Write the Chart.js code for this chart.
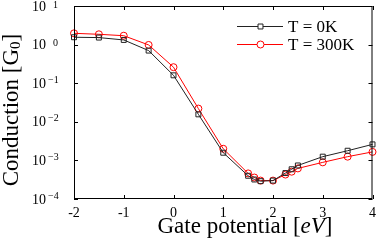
<!DOCTYPE html>
<html>
<head>
<meta charset="utf-8">
<script src="https://cdn.jsdelivr.net/npm/chart.js@4/dist/chart.umd.min.js"></script>
<style>
  html, body { margin: 0; padding: 0; background: #fff; }
</style>
</head>
<body>
<canvas id="condChart" width="382" height="240"></canvas>
<script>
// gate potential [eV]
const gate = [-2, -1.5, -1, -0.5, 0, 0.5, 1, 1.5, 1.625, 1.75, 2, 2.25, 2.375, 2.5, 3, 3.5, 4];
// conduction [G0]
const cond0K = [1.55, 1.52, 1.32, 0.70, 0.16, 0.0156, 0.00158, 4.0e-4, 3.2e-4, 2.9e-4, 3.0e-4, 4.7e-4, 5.9e-4, 7.4e-4, 1.25e-3, 1.78e-3, 2.6e-3];
const cond300K = [1.96, 1.85, 1.70, 0.98, 0.26, 0.022, 0.0020, 4.6e-4, 3.6e-4, 3.0e-4, 3.0e-4, 4.3e-4, 5.1e-4, 6.2e-4, 8.9e-4, 1.25e-3, 1.66e-3];
const seriesNames = ['T = 0K', 'T = 300K'];
const xTicks = [-2, -1, 0, 1, 2, 3, 4];
const yTicks = [1e-4, 1e-3, 1e-2, 1e-1, 1, 10];
const yTickExp = ['\u22124', '\u22123', '\u22122', '\u22121', '0', '1'];

const serif = "'Liberation Serif', 'DejaVu Serif', serif";

const extras = {
  id: 'extras',
  afterDraw(chart) {
    const ctx = chart.ctx;
    const a = chart.chartArea;
    const xs = chart.scales.x, ys = chart.scales.y;
    ctx.save();
    ctx.strokeStyle = '#000';
    ctx.lineWidth = 1;
    // frame
    ctx.strokeRect(a.left + 0.5, a.top + 0.5, a.right - a.left - 1, a.bottom - a.top - 1);
    // inward ticks on all sides
    ctx.beginPath();
    xTicks.forEach(v => {
      const px = Math.round(xs.getPixelForValue(v)) + 0.5;
      ctx.moveTo(px, a.bottom); ctx.lineTo(px, a.bottom - 4);
      ctx.moveTo(px, a.top); ctx.lineTo(px, a.top + 4);
    });
    yTicks.forEach(v => {
      const py = Math.round(ys.getPixelForValue(v)) + 0.5;
      ctx.moveTo(a.left, py); ctx.lineTo(a.left + 4, py);
      ctx.moveTo(a.right, py); ctx.lineTo(a.right - 4, py);
    });
    ctx.stroke();

    // y tick labels 10^n
    ctx.fillStyle = '#000';
    ctx.textBaseline = 'middle';
    ctx.textAlign = 'left';
    yTicks.forEach((v, i) => {
      const py = ys.getPixelForValue(v) + 1;
      ctx.font = '14px ' + serif;
      ctx.fillText('10', 32, py);
      ctx.font = '10px ' + serif;
      const e = yTickExp[i];
      const neg = e.startsWith('\u2212');
      ctx.fillText(e, neg ? 48 : 53, py - (neg ? 4 : 2));
    });

    // y title
    ctx.save();
    ctx.translate(12, 110);
    ctx.rotate(-Math.PI / 2);
    ctx.font = '23px ' + serif;
    ctx.textBaseline = 'middle';
    const t1 = 'Conduction [G';
    const w1 = ctx.measureText(t1).width;
    ctx.font = '15px ' + serif;
    const w2 = ctx.measureText('0').width;
    ctx.font = '23px ' + serif;
    const w3 = ctx.measureText(']').width;
    let sx = -(w1 + w2 + w3) / 2;
    ctx.fillText(t1, sx, 0);
    ctx.font = '15px ' + serif;
    ctx.fillText('0', sx + w1, 4);
    ctx.font = '23px ' + serif;
    ctx.fillText(']', sx + w1 + w2, 0);
    ctx.restore();

    // x title
    ctx.textBaseline = 'alphabetic';
    ctx.font = '23px ' + serif;
    const p1 = 'Gate potential [';
    const q1 = ctx.measureText(p1).width;
    ctx.font = 'italic 23px ' + serif;
    const q2 = ctx.measureText('eV').width;
    ctx.font = '23px ' + serif;
    const q3 = ctx.measureText(']').width;
    let tx = 245 - (q1 + q2 + q3) / 2;
    ctx.fillText(p1, tx, 233);
    ctx.font = 'italic 23px ' + serif;
    ctx.fillText('eV', tx + q1, 233);
    ctx.font = '23px ' + serif;
    ctx.fillText(']', tx + q1 + q2, 233);

    // legend: line + marker + text
    chart.data.datasets.forEach((ds, i) => {
      const ly = 26 + i * 18 + 0.5;
      ctx.strokeStyle = ds.borderColor;
      ctx.lineWidth = 1;
      ctx.beginPath();
      ctx.moveTo(237, ly); ctx.lineTo(283, ly);
      ctx.stroke();
      ctx.fillStyle = '#fff';
      Chart.helpers.drawPoint(ctx, {
        pointStyle: ds.pointStyle, radius: ds.pointRadius, rotation: 0, borderWidth: 1
      }, 260.5, ly);
      ctx.fillStyle = '#000';
      ctx.font = '17px ' + serif;
      ctx.textBaseline = 'middle';
      ctx.fillText(ds.label, 288, ly + 1);
    });
    ctx.restore();
  }
};

const ctx = document.getElementById('condChart').getContext('2d');
const condChart = new Chart(ctx, {
  type: 'line',
  data: {
    datasets: [{
      label: seriesNames[0],
      data: gate.map((g, i) => ({ x: g, y: cond0K[i] })),
      borderColor: '#222',
      backgroundColor: 'transparent',
      pointBorderColor: '#222',
      pointBackgroundColor: 'transparent',
      pointStyle: 'rect',
      pointRadius: 3.5,
      borderWidth: 1,
      pointBorderWidth: 1,
      tension: 0,
      clip: false
    }, {
      label: seriesNames[1],
      data: gate.map((g, i) => ({ x: g, y: cond300K[i] })),
      borderColor: '#ff0000',
      backgroundColor: 'transparent',
      pointBorderColor: '#ff0000',
      pointBackgroundColor: 'transparent',
      pointStyle: 'circle',
      pointRadius: 3.5,
      borderWidth: 1,
      pointBorderWidth: 1,
      tension: 0,
      clip: false
    }]
  },
  options: {
    responsive: false,
    animation: false,
    devicePixelRatio: 1,
    layout: { padding: { top: 6, right: 4, left: 0, bottom: 0 } },
    plugins: { legend: { display: false }, tooltip: { enabled: false } },
    scales: {
      x: {
        type: 'linear',
        min: -2, max: 4,
        afterBuildTicks: s => { s.ticks = xTicks.map(v => ({ value: v })); },
        afterFit: s => { s.height = 41; },
        grid: { display: false, drawTicks: false },
        border: { display: false },
        ticks: {
          color: '#000',
          padding: 6,
          maxRotation: 0,
          font: { family: serif, size: 14 },
          callback: v => String(v)
        }
      },
      y: {
        type: 'logarithmic',
        min: 1e-4, max: 10,
        afterBuildTicks: s => { s.ticks = yTicks.map(v => ({ value: v })); },
        afterFit: s => { s.width = 74; },
        grid: { display: false, drawTicks: false },
        border: { display: false },
        ticks: { display: false }
      }
    }
  },
  plugins: [extras]
});
</script>
</body>
</html>
